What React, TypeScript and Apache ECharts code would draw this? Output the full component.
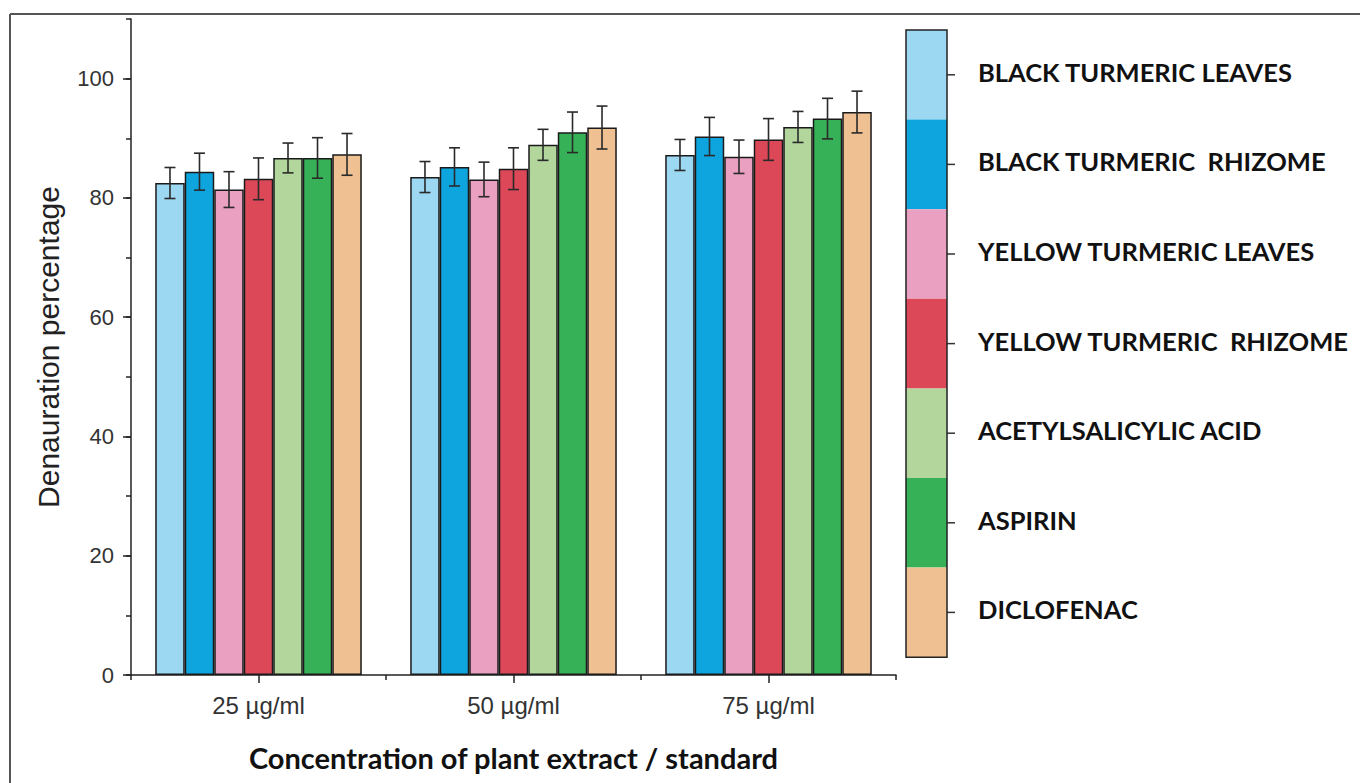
import React, { useEffect, useRef } from "react";
import * as echarts from "echarts";

const categories = ["25 µg/ml", "50 µg/ml", "75 µg/ml"];
const seriesNames = [
  "BLACK TURMERIC LEAVES",
  "BLACK TURMERIC  RHIZOME",
  "YELLOW TURMERIC LEAVES",
  "YELLOW TURMERIC  RHIZOME",
  "ACETYLSALICYLIC ACID",
  "ASPIRIN",
  "DICLOFENAC",
];
const seriesColors = ["#9dd8f2", "#0ea5df", "#e9a0c1", "#dc4858", "#b3d69c", "#36b157", "#efc192"];

const blackLeaves = [82.5, 83.5, 87.2];
const blackRhizome = [84.4, 85.2, 90.3];
const yellowLeaves = [81.4, 83.1, 86.9];
const yellowRhizome = [83.2, 84.9, 89.8];
const acetylsalicylic = [86.7, 88.9, 91.9];
const aspirin = [86.7, 91.0, 93.3];
const diclofenac = [87.3, 91.8, 94.4];

const blackLeavesErr = [2.6, 2.6, 2.6];
const blackRhizomeErr = [3.1, 3.2, 3.2];
const yellowLeavesErr = [3.0, 2.9, 2.8];
const yellowRhizomeErr = [3.5, 3.5, 3.5];
const acetylsalicylicErr = [2.5, 2.6, 2.6];
const aspirinErr = [3.4, 3.4, 3.4];
const diclofenacErr = [3.5, 3.6, 3.5];

const seriesValues = [blackLeaves, blackRhizome, yellowLeaves, yellowRhizome, acetylsalicylic, aspirin, diclofenac];
const seriesErrors = [blackLeavesErr, blackRhizomeErr, yellowLeavesErr, yellowRhizomeErr, acetylsalicylicErr, aspirinErr, diclofenacErr];

const yMin = 0;
const yMax = 110;
const yMajor = 20;
const yMinor = 10;

const BAR_GAP_RATIO = 0.19;

export default function App() {
  const ref = useRef<HTMLDivElement>(null);
  useEffect(() => {
    if (!ref.current) return;
    const chart = echarts.init(ref.current, undefined, { renderer: "svg" });
    const n = seriesNames.length;

    const barSeries = seriesNames.map((name, i) => ({
      type: "bar",
      name,
      data: seriesValues[i],
      barGap: "0%",
      barCategoryGap: BAR_GAP_RATIO * 100 + "%",
      itemStyle: { color: seriesColors[i], borderColor: "#1a1a1a", borderWidth: 1.5 },
      xAxisIndex: 0,
      yAxisIndex: 0,
    }));

    const errData: number[][] = [];
    seriesValues.forEach((vals, s) => {
      vals.forEach((v, c) => errData.push([c, s, v, seriesErrors[s][c]]));
    });

    const errSeries = {
      type: "custom",
      xAxisIndex: 0,
      yAxisIndex: 0,
      z: 10,
      data: errData,
      encode: { x: 0, y: 2 },
      renderItem: (params: any, api: any) => {
        const c = api.value(0);
        const s = api.value(1);
        const v = api.value(2);
        const e = api.value(3);
        const band = api.size([1, 0])[0];
        const bw = (band * (1 - BAR_GAP_RATIO)) / n;
        const center = api.coord([c, v]);
        const x = center[0] + (s - (n - 1) / 2) * bw;
        const top = api.coord([c, v + e])[1];
        const bot = api.coord([c, v - e])[1];
        const cap = 5.5;
        const style = { stroke: "#2a2a2a", lineWidth: 1.6 };
        return {
          type: "group",
          children: [
            { type: "line", shape: { x1: x, y1: top, x2: x, y2: bot }, style },
            { type: "line", shape: { x1: x - cap, y1: top, x2: x + cap, y2: top }, style },
            { type: "line", shape: { x1: x - cap, y1: bot, x2: x + cap, y2: bot }, style },
          ],
        };
      },
    };

    // custom legend (color bar)
    const legX = 906;
    const legTop = 30;
    const legW = 41;
    const blockH = 89.6;
    const legendEls: any[] = [];
    seriesNames.forEach((name, i) => {
      legendEls.push({
        type: "rect",
        shape: { x: legX, y: legTop + i * blockH, width: legW, height: blockH },
        style: { fill: seriesColors[i] },
      });
      const cy = legTop + (i + 0.5) * blockH;
      legendEls.push({
        type: "line",
        shape: { x1: legX + legW, y1: cy, x2: legX + legW + 8, y2: cy },
        style: { stroke: "#333", lineWidth: 1.5 },
      });
      legendEls.push({
        type: "text",
        x: 978,
        y: cy - 3,
        style: {
          text: name,
          fill: "#111",
          font: "bold 25.5px Lato",
          verticalAlign: "middle",
        },
      });
    });
    legendEls.push({
      type: "rect",
      shape: { x: legX, y: legTop, width: legW, height: blockH * n },
      style: { fill: "none", stroke: "#222", lineWidth: 1.5 },
    });

    chart.setOption({
      animation: false,
      backgroundColor: "#ffffff",
      grid: { left: 131, right: 464, top: 19, bottom: 108, containLabel: false },
      xAxis: [
        {
          type: "category",
          data: categories,
          position: "bottom",
          axisLine: { show: true, lineStyle: { color: "#222", width: 1.5 } },
          axisTick: { show: true, alignWithLabel: true, length: 8, lineStyle: { color: "#222", width: 1.5 } },
          axisLabel: { color: "#333", fontSize: 24, fontFamily: "Liberation Sans, Arial", margin: 18 },
          name: "Concentration of plant extract / standard",
          nameLocation: "middle",
          nameGap: 68,
          nameTextStyle: { color: "#111", fontSize: 29, fontWeight: "bold", fontFamily: "Lato" },
        },
        {
          type: "category",
          data: categories,
          position: "bottom",
          offset: 0,
          axisLine: { show: false },
          axisTick: { show: true, length: 5, lineStyle: { color: "#222", width: 1.5 } },
          axisLabel: { show: false },
        },
      ],
      yAxis: [
        {
          type: "value",
          min: yMin,
          max: yMax,
          interval: yMajor,
          position: "left",
          splitLine: { show: false },
          axisLine: { show: true, lineStyle: { color: "#222", width: 1.5 } },
          axisTick: { show: true, length: 8, lineStyle: { color: "#222", width: 1.5 } },
          axisLabel: {
            color: "#333",
            fontSize: 22,
            fontFamily: "Liberation Sans, Arial",
            margin: 17,
            showMaxLabel: false,
            formatter: (v: number) => (v % yMajor === 0 ? String(v) : ""),
          },
          name: "Denauration percentage",
          nameLocation: "middle",
          nameGap: 68,
          nameTextStyle: { color: "#222", fontSize: 30, fontFamily: "Liberation Sans, Arial" },
        },
        {
          type: "value",
          min: yMin,
          max: yMax,
          interval: yMinor,
          position: "left",
          offset: 0,
          splitLine: { show: false },
          axisLine: { show: false },
          axisTick: { show: true, length: 5, lineStyle: { color: "#222", width: 1.5 } },
          axisLabel: { show: false },
        },
      ],
      series: [...barSeries, errSeries],
      graphic: [
        {
          type: "line",
          shape: { x1: 10, y1: 14, x2: 1360, y2: 14 },
          style: { stroke: "#555", lineWidth: 2 },
        },
        {
          type: "line",
          shape: { x1: 10, y1: 14, x2: 10, y2: 783 },
          style: { stroke: "#555", lineWidth: 2 },
        },
        ...legendEls,
      ],
    });
    return () => chart.dispose();
  }, []);
  return <div ref={ref} style={{ position: "fixed", left: 0, top: 0, width: 1360, height: 783 }} />;
}
